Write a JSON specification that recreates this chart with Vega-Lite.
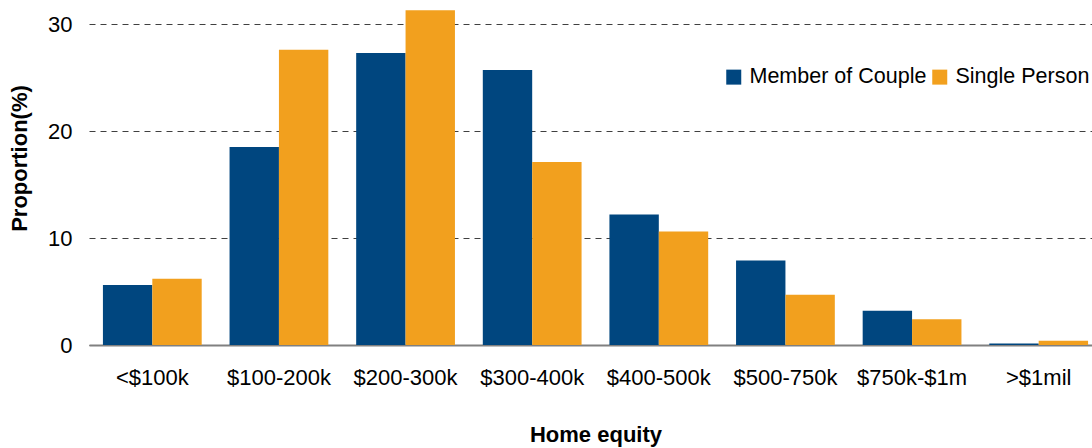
{
  "$schema": "https://vega.github.io/schema/vega-lite/v6.json",
  "width": 1013,
  "height": 345,
  "autosize": {"type": "none"},
  "padding": {"left": 89, "top": 0, "right": 0, "bottom": 103},
  "background": "white",
  "config": {
    "view": {"stroke": null},
    "font": "Liberation Sans"
  },
  "data": {
    "values": [
      {"cat": "<$100k", "grp": "Member of Couple", "v": 5.6},
      {"cat": "<$100k", "grp": "Single Person", "v": 6.2},
      {"cat": "$100-200k", "grp": "Member of Couple", "v": 18.5},
      {"cat": "$100-200k", "grp": "Single Person", "v": 27.6},
      {"cat": "$200-300k", "grp": "Member of Couple", "v": 27.3},
      {"cat": "$200-300k", "grp": "Single Person", "v": 31.3},
      {"cat": "$300-400k", "grp": "Member of Couple", "v": 25.7},
      {"cat": "$300-400k", "grp": "Single Person", "v": 17.1},
      {"cat": "$400-500k", "grp": "Member of Couple", "v": 12.2},
      {"cat": "$400-500k", "grp": "Single Person", "v": 10.6},
      {"cat": "$500-750k", "grp": "Member of Couple", "v": 7.9},
      {"cat": "$500-750k", "grp": "Single Person", "v": 4.7},
      {"cat": "$750k-$1m", "grp": "Member of Couple", "v": 3.2},
      {"cat": "$750k-$1m", "grp": "Single Person", "v": 2.4},
      {"cat": ">$1mil", "grp": "Member of Couple", "v": 0.15},
      {"cat": ">$1mil", "grp": "Single Person", "v": 0.4}
    ]
  },
  "mark": {"type": "bar"},
  "encoding": {
    "x": {
      "field": "cat",
      "type": "nominal",
      "sort": null,
      "scale": {"paddingInner": 0.22, "paddingOuter": 0.11},
      "axis": {
        "title": "Home equity",
        "titleFontSize": 22,
        "titleFontWeight": "bold",
        "titleColor": "#000",
        "titlePadding": 36,
        "labelAngle": 0,
        "labelFontSize": 22,
        "labelColor": "#000",
        "labelPadding": 22,
        "ticks": false,
        "domainColor": "#808080",
        "domainWidth": 2
      }
    },
    "xOffset": {"field": "grp", "type": "nominal", "sort": ["Member of Couple", "Single Person"]},
    "y": {
      "field": "v",
      "type": "quantitative",
      "scale": {"domain": [0, 32.25], "nice": false},
      "axis": {
        "title": "Proportion(%)",
        "titleFontSize": 22,
        "titleFontWeight": "bold",
        "titleColor": "#000",
        "titlePadding": 16,
        "titleY": 158,
        "values": [0, 10, 20, 30],
        "labelFontSize": 22,
        "labelColor": "#000",
        "labelPadding": 17,
        "ticks": false,
        "domain": false,
        "grid": true,
        "gridDash": [6, 5],
        "gridColor": "#404040",
        "gridWidth": 1
      }
    },
    "color": {
      "field": "grp",
      "type": "nominal",
      "sort": ["Member of Couple", "Single Person"],
      "scale": {"range": ["#00467F", "#F2A01E"]},
      "legend": {
        "title": null,
        "orient": "none",
        "legendX": 634,
        "legendY": 66,
        "direction": "horizontal",
        "symbolType": "square",
        "symbolSize": 225,
        "symbolStrokeWidth": 0,
        "labelFontSize": 21.5,
        "labelColor": "#000",
        "labelOffset": 5,
        "labelLimit": 400,
        "columnPadding": 2
      }
    }
  }
}
